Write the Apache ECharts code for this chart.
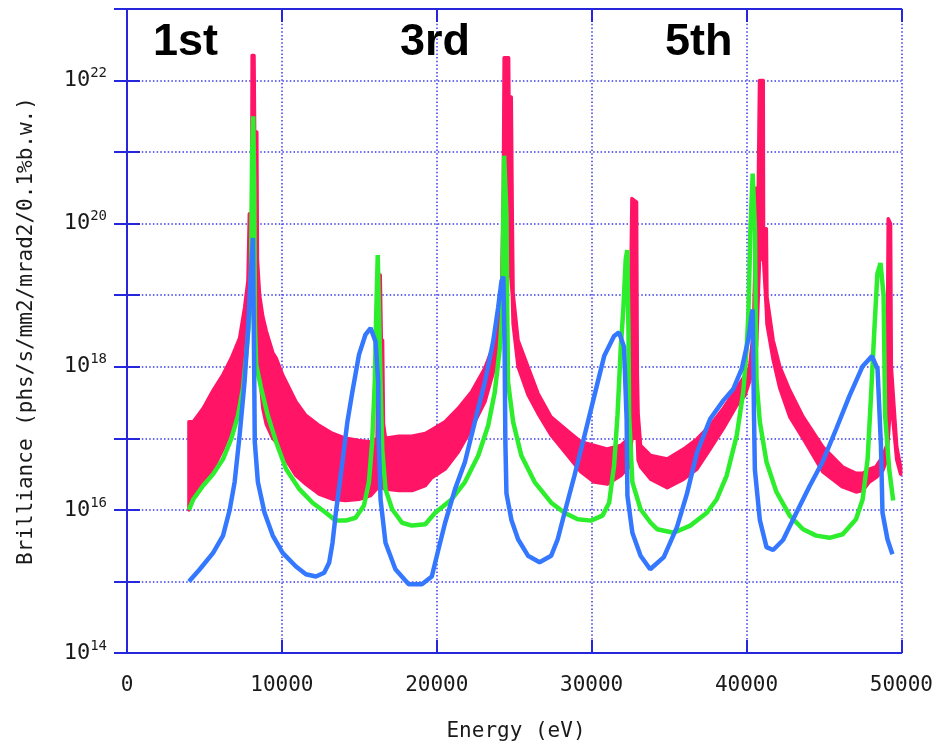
<!DOCTYPE html>
<html>
<head>
<meta charset="utf-8">
<script src="https://cdn.jsdelivr.net/npm/echarts@6/dist/echarts.min.js"></script>
<style>
html,body{margin:0;padding:0;background:#fff;}
#chart{width:936px;height:746px;}
</style>
</head>
<body>
<div id="chart"></div>
<script>
// ---- data (Energy in eV, Brilliance in phs/s/mm2/mrad2/0.1%b.w.) ----
var xTicks = [0, 10000, 20000, 30000, 40000, 50000];
var harmonicLabels = ['1st', '3rd', '5th'];

var blueE = [4000,4700,5560,6200,6630,6950,7270,7590,7810,7920,8050,8130,8200,8250,8450,8880,9410,10050,10910,11550,12200,12730,13050,13270,13480,13690,13910,14230,14550,14980,15400,15730,16050,16220,16260,16370,16690,17330,18190,19040,19680,20110,20540,21180,21820,22460,23110,23640,23960,24180,24300,24380,24430,24500,24820,25250,25890,26640,27390,27810,28240,28880,29530,30170,30810,31450,31770,32090,32260,32310,32630,33160,33780,34660,35510,36160,36800,37650,38510,39150,39690,40120,40330,40400,40480,40540,40860,41290,41720,42360,43220,44070,44930,45790,46640,47500,48100,48460,48680,48780,49100,49420];
var blueB = [1.0e15,1.48e15,2.51e15,4.37e15,1.0e16,2.45e16,1.1e17,6.17e17,3.16e18,1.0e19,3.16e19,6.31e19,1.82e18,8.91e16,2.45e16,9.12e15,4.37e15,2.51e15,1.62e15,1.26e15,1.17e15,1.32e15,1.82e15,3.47e15,8.91e15,2.0e16,4.68e16,1.7e17,4.47e17,1.48e18,2.82e18,3.47e18,2.24e18,6.17e17,8.91e16,1.41e16,3.47e15,1.48e15,9.12e14,9.12e14,1.17e15,2.82e15,6.61e15,1.95e16,4.68e16,1.7e17,6.17e17,2.24e18,6.61e18,1.58e19,1.82e19,2.0e18,8.91e16,1.7e16,7.24e15,3.89e15,2.29e15,1.86e15,2.29e15,3.89e15,8.91e15,2.95e16,1.07e17,3.89e17,1.41e18,2.69e18,3.02e18,1.91e18,1.86e17,1.58e16,4.79e15,2.29e15,1.48e15,2.19e15,5.75e15,1.7e16,6.31e16,1.86e17,3.39e17,4.9e17,9.33e17,2.45e18,5.37e18,6.31e18,2.29e17,3.63e16,7.24e15,3.02e15,2.75e15,3.8e15,9.12e15,2.14e16,4.79e16,1.35e17,3.89e17,1.02e18,1.41e18,9.33e17,7.94e16,9.12e15,3.89e15,2.4e15];

var greenE = [4000,4280,4920,5560,6200,6740,7170,7490,7700,7920,8000,8080,8150,8220,8260,8340,8660,9090,9630,10270,11130,11980,12840,13480,14120,14760,15300,15620,15830,16000,16090,16190,16300,16370,16480,16690,17120,17760,18400,19260,19900,20970,21820,22680,23320,23750,24070,24220,24300,24350,24500,24560,24600,24930,25460,26320,27390,28240,29100,29950,30700,31130,31450,31670,31880,32050,32200,32300,32380,32420,32630,33160,33810,34230,35300,36370,37440,38080,38720,39370,39790,40010,40120,40250,40400,40550,40600,40650,40860,41290,41930,42790,43650,44500,45360,46210,47070,47500,47820,48030,48250,48450,48650,48850,48950,49210,49470];
var greenB = [1.0e16,1.41e16,2.19e16,3.16e16,5.13e16,1.0e17,2.09e17,5.01e17,1.48e18,5.37e18,1.58e19,1.0e21,3.16e21,3.16e20,3.98e18,1.07e18,5.01e17,2.09e17,8.91e16,3.72e16,1.95e16,1.26e16,9.12e15,7.08e15,7.08e15,7.76e15,1.15e16,2.45e16,8.91e16,6.17e17,5.37e18,3.63e19,3.16e18,6.17e17,7.08e16,1.95e16,1.02e16,6.61e15,6.03e15,6.31e15,9.12e15,1.41e16,2.45e16,5.75e16,1.51e17,4.47e17,1.82e18,5.37e18,1.38e20,8.91e20,1.38e20,3.98e18,6.17e17,1.7e17,5.75e16,2.45e16,1.26e16,9.12e15,7.41e15,7.08e15,8.32e15,1.26e16,4.17e16,2.09e17,1.82e18,6.61e18,3.16e19,4.27e19,3.16e18,2.09e17,2.45e16,1.02e16,6.61e15,5.37e15,4.79e15,6.03e15,9.12e15,1.41e16,3.02e16,1.1e17,4.47e17,1.82e18,5.37e18,7.94e19,5.01e20,7.94e19,3.98e18,6.17e17,1.7e17,4.68e16,1.78e16,8.32e15,5.37e15,4.37e15,4.07e15,4.57e15,7.41e15,1.41e16,5.13e16,3.63e17,3.16e18,2.0e19,2.82e19,1.0e19,2.09e17,3.72e16,1.35e16];

// red curve: strongly oscillating, given as upper / lower envelope of its fringes
var redE  = [4000,4280,4920,5560,6200,6740,7270,7590,7810,7900,8050,8080,8200,8240,8380,8420,8560,8770,8990,9410,9630,10060,10270,10910,11550,11980,12410,13270,14120,14980,15730,16150,16250,16350,16420,16500,16560,16690,17550,18400,19260,19680,20540,21390,22250,23110,23750,24180,24300,24350,24640,24660,24810,24880,24930,25250,25890,26530,27370,28460,29310,30170,31020,31880,32400,32600,32900,32950,33000,33160,33810,34880,35940,36800,37650,38510,39370,39900,40200,40450,40650,40760,40840,41080,41100,41280,41320,41720,42150,42790,43650,44930,46210,47070,47500,47930,48350,48800,49050,49150,49300,49350,49700,49950];
var redHi = [1.7e17,1.7e17,2.63e17,4.68e17,7.76e17,1.32e18,2.51e18,6.61e18,1.58e19,1.38e20,1.38e20,2.24e22,2.24e22,1.91e21,1.91e21,3.16e19,1.0e19,5.01e18,3.16e18,1.58e18,1.32e18,7.59e17,6.17e17,3.24e17,2.09e17,1.78e17,1.51e17,1.17e17,1.0e17,9.33e16,8.91e16,1.0e17,1.91e19,1.91e19,2.34e18,2.34e18,1.58e17,1.0e17,1.07e17,1.07e17,1.17e17,1.32e17,1.7e17,2.63e17,4.47e17,9.55e17,2.24e18,1.0e19,3.16e20,2.09e22,2.09e22,5.89e21,5.89e21,1.0e20,1.05e19,2.34e18,1.0e18,4.27e17,2.0e17,1.26e17,8.91e16,7.94e16,7.08e16,7.94e16,1.0e17,2.24e20,2.0e20,7.94e17,2.24e17,7.94e16,5.75e16,5.13e16,7.08e16,9.77e16,1.51e17,2.63e17,5.01e17,7.59e17,1.0e18,3.16e18,3.16e20,3.16e20,1.0e22,1.0e22,8.51e19,8.51e19,9.55e18,2.34e18,1.0e18,4.68e17,2.0e17,7.59e16,3.98e16,3.24e16,3.24e16,3.72e16,3.98e16,5.62e16,7.94e16,1.17e20,1.0e20,1.0e18,7.59e16,3.98e16];
var redLo = [1.0e16,1.41e16,2.19e16,3.72e16,7.08e16,1.38e17,3.16e17,1.26e18,3.16e18,1.0e19,1.58e19,3.16e19,3.16e19,1.0e19,6.31e18,3.16e18,7.94e17,2.63e17,1.58e17,1.0e17,8.91e16,5.75e16,5.01e16,3.02e16,2.29e16,1.95e16,1.66e16,1.41e16,1.35e16,1.41e16,1.58e16,2.0e16,3.16e16,3.16e17,1.0e17,3.16e16,2.0e16,1.95e16,1.86e16,1.86e16,2.19e16,2.82e16,3.72e16,6.46e16,1.38e17,3.24e17,1.0e18,5.01e18,1.0e19,3.16e19,3.16e19,3.16e19,1.58e19,1.0e19,3.98e18,1.0e18,4.07e17,2.24e17,1.12e17,5.75e16,3.39e16,2.45e16,2.29e16,3.02e16,3.98e16,1.0e17,1.0e17,1.0e17,5.01e16,3.98e16,2.69e16,2.04e16,2.69e16,3.72e16,7.08e16,1.38e17,2.88e17,3.98e17,6.31e17,1.0e18,2.0e18,1.0e19,3.16e19,3.16e19,3.16e19,6.31e18,3.98e18,1.26e18,5.01e17,2.0e17,1.0e17,3.39e16,2.09e16,1.78e16,1.86e16,2.45e16,2.82e16,3.55e16,5.01e16,1.0e17,3.16e17,3.16e17,5.01e16,3.16e16];

var RED = '#ff1466', GREEN = '#2cee2c', BLUE = '#3478ff', FRAME = '#2626dc', GRID = '#3a3aee';
var MONO = '"DejaVu Sans Mono", monospace';

function pairs(xs, ys) { return xs.map(function (x, i) { return [x, ys[i]]; }); }

var chart = echarts.init(document.getElementById('chart'), null, {renderer: 'canvas'});

var axisLineStyle = {lineStyle: {color: FRAME, width: 2}};
var tickStyle = {show: true, inside: true, length: 13, lineStyle: {color: FRAME, width: 2}};
var dotted = {show: true, lineStyle: {color: GRID, width: 1.5, type: [1.5, 2.2]}};

var option = {
  animation: false,
  backgroundColor: '#ffffff',
  grid: {left: 127, top: 9, right: 30, bottom: 93, show: false},
  xAxis: [
    {type: 'value', position: 'bottom', min: 0, max: 50000, interval: 10000,
     axisLine: axisLineStyle, axisTick: tickStyle, splitLine: dotted,
     axisLabel: {show: true, margin: 22, color: '#1a1a1a', fontFamily: MONO, fontSize: 21,
       formatter: function (v) { return xTicks.indexOf(v) >= 0 ? String(v) : ''; }}},
    {type: 'value', position: 'top', min: 0, max: 50000, interval: 10000,
     axisLine: axisLineStyle, axisTick: tickStyle, splitLine: {show: false}, axisLabel: {show: false}}
  ],
  yAxis: [
    {type: 'log', logBase: 10, position: 'left', min: 1e14, max: 1e23,
     axisLine: axisLineStyle, axisTick: tickStyle, splitLine: dotted, minorTick: {show: false},
     axisLabel: {show: true, margin: 20, color: '#1a1a1a',
       formatter: function (v) {
         var e = Math.round(Math.log10(v));
         if (e % 2 !== 0 || e > 22) return '';
         return '{b|10}{s|' + e + '}';
       },
       rich: {
         b: {fontFamily: MONO, fontSize: 22, color: '#1a1a1a'},
         s: {fontFamily: MONO, fontSize: 14, color: '#1a1a1a', padding: [0, 0, 14, 0]}
       }}},
    {type: 'log', logBase: 10, position: 'right', min: 1e14, max: 1e23,
     axisLine: axisLineStyle, axisTick: tickStyle, splitLine: {show: false}, axisLabel: {show: false}}
  ],
  series: [
    {
      type: 'custom', coordinateSystem: 'cartesian2d', xAxisIndex: 0, yAxisIndex: 0,
      silent: true, z: 2,
      data: [[redE[0], redHi[0]]],
      renderItem: function (params, api) {
        var pts = [], i;
        for (i = 0; i < redE.length; i++) pts.push(api.coord([redE[i], redHi[i]]));
        for (i = redE.length - 1; i >= 0; i--) pts.push(api.coord([redE[i], redLo[i]]));
        return {type: 'polygon', shape: {points: pts},
                style: {fill: RED, stroke: RED, lineWidth: 3.5, lineJoin: 'round'}};
      }
    },
    {type: 'line', data: pairs(greenE, greenB), showSymbol: false, symbol: 'none', z: 3,
     lineStyle: {color: GREEN, width: 4.5}, silent: true},
    {type: 'line', data: pairs(blueE, blueB), showSymbol: false, symbol: 'none', z: 4,
     lineStyle: {color: BLUE, width: 4.5}, silent: true}
  ],
  graphic: [
    {type: 'text', left: 153, top: 20, z: 10, style: {text: harmonicLabels[0], font: 'bold 45px "Liberation Sans", Arial, sans-serif', fill: '#000'}},
    {type: 'text', left: 400, top: 20, z: 10, style: {text: harmonicLabels[1], font: 'bold 45px "Liberation Sans", Arial, sans-serif', fill: '#000'}},
    {type: 'text', left: 665, top: 20, z: 10, style: {text: harmonicLabels[2], font: 'bold 45px "Liberation Sans", Arial, sans-serif', fill: '#000'}},
    {type: 'text', x: 516, y: 732, z: 10, style: {text: 'Energy (eV)', font: '21px ' + MONO, fill: '#1a1a1a', textAlign: 'center', textVerticalAlign: 'middle'}},
    {type: 'text', x: 27, y: 331, rotation: Math.PI / 2, z: 10, style: {text: 'Brilliance (phs/s/mm2/mrad2/0.1%b.w.)', font: '21px ' + MONO, fill: '#1a1a1a', textAlign: 'center', textVerticalAlign: 'middle'}}
  ]
};
chart.setOption(option);
</script>
</body>
</html>
